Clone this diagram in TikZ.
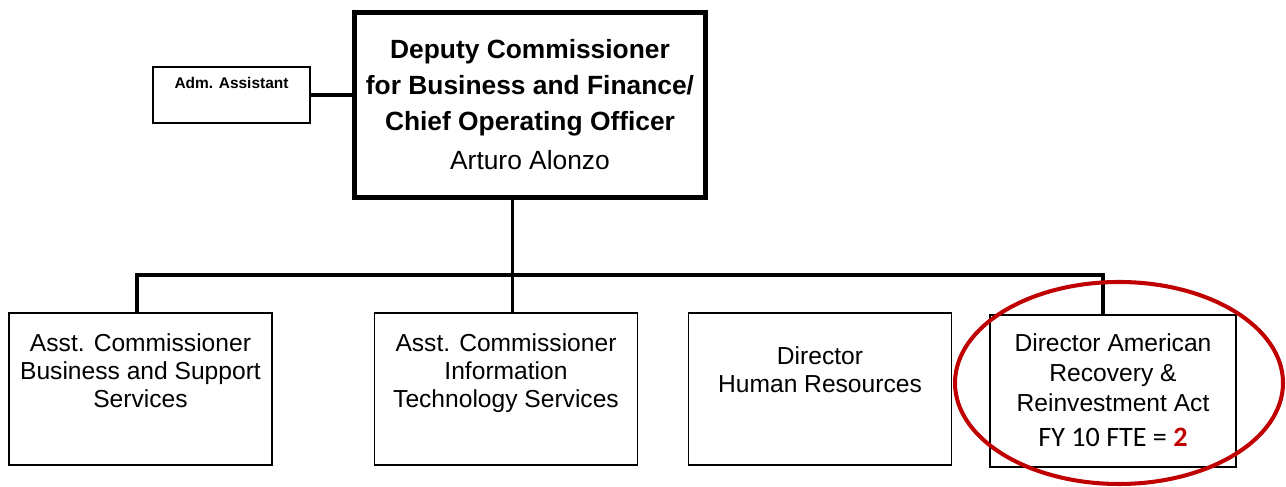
\documentclass[tikz,border=0pt]{standalone}
\usepackage{fontspec}
\setmainfont{Liberation Sans}
\newfontfamily\calibri{Carlito}
\definecolor{fteRed}{RGB}{192,0,0}
\tikzset{
  box/.style={draw, line width=0.8pt, minimum width=5.26cm, minimum height=3.04cm, inner sep=0pt},
  boxtext/.style={align=center, inner sep=0pt, anchor=north, font=\fontsize{14}{15.9}\selectfont},
  bar/.style={line width=2.8pt},
  stem/.style={line width=1.7pt},
  oval/.style={draw=fteRed, line width=2.3pt},
}
\begin{document}
\begin{tikzpicture}
		\useasboundingbox (0,0) rectangle (25.72,9.74);
		\node (top) [draw, line width=2.8pt, minimum width=7.02cm, minimum height=3.7cm, align=center,
		  font=\fontsize{15}{20.4}\selectfont] at (10.6,7.64)
		  {\textbf{Deputy Commissioner}\\ \textbf{for Business and Finance/}\\ \textbf{Chief Operating Officer}\\[2pt] Arturo Alonzo};
		\node (adm) [left of=top, xshift=-4.97cm, yshift=0.2cm, draw, line width=0.8pt, minimum width=3.14cm, minimum height=1.12cm] {};
		\node (t0) [anchor=north, inner sep=0pt, yshift=-0.22cm, font=\bfseries\fontsize{8.8}{10}\selectfont] at (adm.north) {Adm. Assistant};
		\draw[bar] (adm.east) -- (adm.east -| top.west);

		\node (b1) [box] at (2.81,1.96) {};
		\node (b2) [box, right of=b1, xshift=6.31cm] {};
		\node (b3) [box, right of=b2, xshift=5.28cm] {};
		\node (b4) [box, right of=b3, xshift=4.86cm, yshift=-0.04cm, minimum width=4.92cm] {};

		\node (t1) [boxtext, yshift=-0.42cm] at (b1.north) {Asst. Commissioner\\ Business and Support\\ Services};
		\node (t2) [boxtext, yshift=-0.42cm] at (b2.north) {Asst. Commissioner\\ Information\\ Technology Services};
		\node (t3) [boxtext, yshift=-0.68cm] at (b3.north) {Director\\ Human Resources};
		\node (t4) [boxtext, yshift=-0.38cm, font=\fontsize{14}{17}\selectfont] at (b4.north)
		  {Director American\\ Recovery \&\\ Reinvestment Act\\[3pt] {\calibri\fontsize{16}{17}\selectfont FY 10 FTE = \textcolor{fteRed}{\textbf{2}}}};

		\coordinate (j) at (10.24,4.24);
		\draw[stem] (top.south -| j) -- (j) -- (j |- b2.north);
		\draw[bar] ([xshift=-0.07cm]b1.north) |- (j) -| ([xshift=-0.2cm]b4.north);

		\draw[oval] (22.38,2.08) ellipse (3.28 and 2.02);
\end{tikzpicture}
\end{document}
